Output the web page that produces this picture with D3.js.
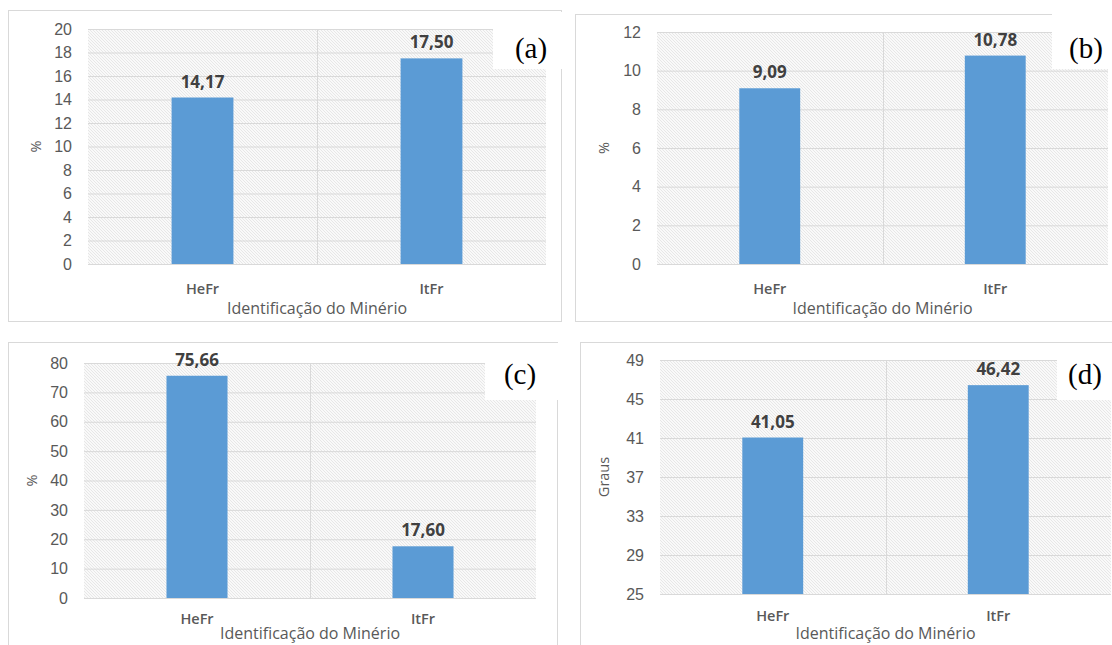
<!DOCTYPE html>
<html>
<head>
<meta charset="utf-8">
<script src="https://cdn.jsdelivr.net/npm/d3@7"></script>
<style>
  html, body { margin: 0; padding: 0; background: #ffffff; }
  svg { display: block; }
</style>
</head>
<body>
<svg id="chart" width="1112" height="645"></svg>
<script>
// Ore samples shown on the x axis of every panel
const categories = ["HeFr", "ItFr"];

// Measured values for each panel
const valuesA = [14.17, 17.50];
const valuesB = [9.09, 10.78];
const valuesC = [75.66, 17.60];
const valuesD = [41.05, 46.42];

// Y-axis tick values for each panel
const ticksA = [0, 2, 4, 6, 8, 10, 12, 14, 16, 18, 20];
const ticksB = [0, 2, 4, 6, 8, 10, 12];
const ticksC = [0, 10, 20, 30, 40, 50, 60, 70, 80];
const ticksD = [25, 29, 33, 37, 41, 45, 49];

// Panel letters and axis titles
const panelLetters = ["(a)", "(b)", "(c)", "(d)"];
const yTitles = ["%", "%", "%", "Graus"];
const xTitle = "Identificação do Minério";

const svg = d3.select("#chart");

// Fine diagonal hatch used as the plot-area fill
const defs = svg.append("defs");
const pat = defs.append("pattern")
  .attr("id", "hatch")
  .attr("patternUnits", "userSpaceOnUse")
  .attr("width", 3).attr("height", 3);
pat.append("rect").attr("width", 3).attr("height", 3).attr("fill", "#f9f9f9");
pat.append("path")
  .attr("d", "M-1,-1 L4,4 M-1,2 L1,4 M2,-1 L4,1")
  .attr("stroke", "#e2e2e2").attr("stroke-width", 0.8);

const fmt = v => d3.format(".2f")(v).replace(".", ",");

const panels = [
  { values: valuesA, ticks: ticksA, letter: panelLetters[0], yTitle: yTitles[0],
    outer: [8, 10, 553, 311], plot: [88, 29, 546, 264], yTitleX: 37, catY: 294, titleY: 314,
    box: [493, 12, 72, 57], letterPos: [531, 58] },
  { values: valuesB, ticks: ticksB, letter: panelLetters[1], yTitle: yTitles[1],
    outer: [575, 14, 560, 307], plot: [657, 32, 1108, 264], yTitleX: 605, catY: 294, titleY: 314,
    box: [1052, 0, 60, 69], letterPos: [1086, 58] },
  { values: valuesC, ticks: ticksC, letter: panelLetters[2], yTitle: yTitles[2],
    outer: [8, 342, 549, 320], plot: [84, 363, 536, 598], yTitleX: 33, catY: 624, titleY: 639,
    box: [485, 343, 76, 57], letterPos: [520, 384] },
  { values: valuesD, ticks: ticksD, letter: panelLetters[3], yTitle: yTitles[3],
    outer: [580, 342, 560, 320], plot: [660, 360, 1111, 594], yTitleX: 605, catY: 621, titleY: 639,
    box: [1057, 343, 55, 57], letterPos: [1085, 384] }
];

panels.forEach(p => {
  const g = svg.append("g");
  const [ox, oy, ow, oh] = p.outer;
  const [pl, pt, pr, pb] = p.plot;

  // chart frame
  g.append("rect")
    .attr("x", ox + 0.5).attr("y", oy + 0.5)
    .attr("width", ow).attr("height", oh)
    .attr("fill", "#ffffff").attr("stroke", "#d9d9d9").attr("stroke-width", 1);

  const x = d3.scaleBand().domain(categories).range([pl, pr]).paddingInner(0).paddingOuter(0);
  const y = d3.scaleLinear().domain(d3.extent(p.ticks)).range([pb, pt]);

  // plot area
  g.append("rect")
    .attr("x", pl).attr("y", pt)
    .attr("width", pr - pl).attr("height", pb - pt)
    .attr("fill", "url(#hatch)");

  // horizontal gridlines
  g.append("g")
    .attr("transform", `translate(${pl},0)`)
    .call(d3.axisLeft(y).tickValues(p.ticks).tickSize(-(pr - pl)).tickFormat(""))
    .call(a => a.select(".domain").remove())
    .call(a => a.selectAll("line").attr("stroke", "#d9d9d9"));

  // vertical gridlines between categories
  const bounds = categories.slice(1).map(c => x(c));
  g.selectAll(".vgrid").data(bounds).enter().append("line")
    .attr("x1", d => Math.round(d) + 0.5).attr("x2", d => Math.round(d) + 0.5)
    .attr("y1", pt).attr("y2", pb)
    .attr("stroke", "#d9d9d9");

  // y tick labels
  const yAxis = g.append("g")
    .attr("transform", `translate(${pl - 16},0)`)
    .call(d3.axisLeft(y).tickValues(p.ticks).tickSize(0).tickPadding(0).tickFormat(d3.format("d")));
  yAxis.select(".domain").remove();
  yAxis.selectAll("text")
    .attr("font-family", "Liberation Sans, Arial, sans-serif")
    .attr("font-size", 16).attr("fill", "#595959");

  // bars
  const bw = (pr - pl) / categories.length * 0.27;
  g.selectAll(".bar").data(p.values).enter().append("rect")
    .attr("x", (d, i) => x(categories[i]) + x.bandwidth() / 2 - bw / 2)
    .attr("y", d => y(d))
    .attr("width", bw)
    .attr("height", d => y(y.domain()[0]) - y(d))
    .attr("fill", "#5b9bd5");

  // value labels
  g.selectAll(".val").data(p.values).enter().append("text")
    .attr("x", (d, i) => x(categories[i]) + x.bandwidth() / 2)
    .attr("y", d => y(d) - 10)
    .attr("text-anchor", "middle")
    .attr("font-family", "Open Sans, sans-serif")
    .attr("font-weight", 700).attr("font-size", 17).attr("fill", "#404040")
    .text(d => fmt(d));

  // category labels
  g.selectAll(".cat").data(categories).enter().append("text")
    .attr("x", d => x(d) + x.bandwidth() / 2)
    .attr("y", p.catY)
    .attr("text-anchor", "middle")
    .attr("font-family", "Open Sans, sans-serif")
    .attr("font-weight", 600).attr("font-size", 14.5).attr("fill", "#595959")
    .text(d => d);

  // x axis title
  g.append("text")
    .attr("x", (pl + pr) / 2)
    .attr("y", p.titleY)
    .attr("text-anchor", "middle")
    .attr("font-family", "Open Sans, sans-serif")
    .attr("font-size", 16).attr("fill", "#595959")
    .text(xTitle);

  // y axis title
  g.append("text")
    .attr("transform", `translate(${p.yTitleX},${(pt + pb) / 2}) rotate(-90)`)
    .attr("text-anchor", "middle")
    .attr("dominant-baseline", "middle")
    .attr("font-family", "Open Sans, sans-serif")
    .attr("font-size", 14.5).attr("fill", "#595959")
    .text(p.yTitle);

  // panel letter on a white tab
  const [bx, by, bw2, bh] = p.box;
  g.append("rect").attr("x", bx).attr("y", by).attr("width", bw2).attr("height", bh).attr("fill", "#ffffff");
  g.append("text")
    .attr("x", p.letterPos[0]).attr("y", p.letterPos[1])
    .attr("text-anchor", "middle")
    .attr("font-family", "Liberation Serif, Times New Roman, serif")
    .attr("font-size", 29).attr("fill", "#000000")
    .text(p.letter);
});
</script>
</body>
</html>
